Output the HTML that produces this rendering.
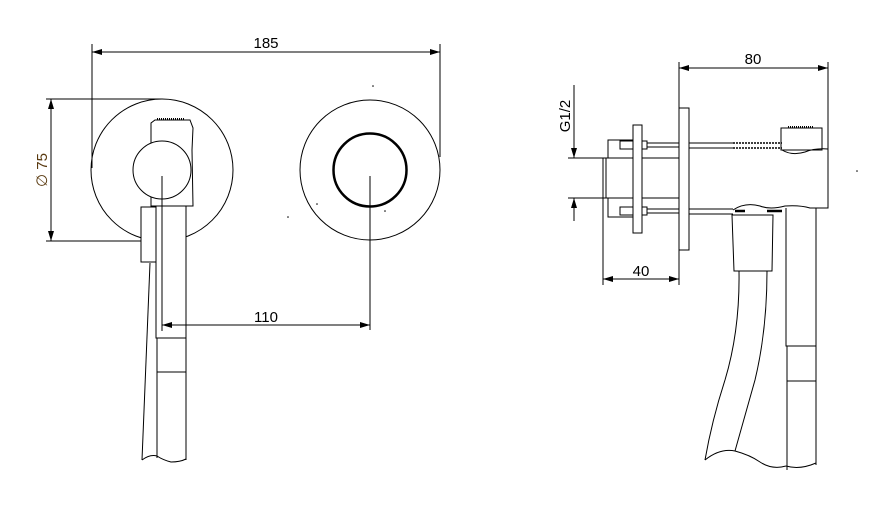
<!DOCTYPE html>
<html><head><meta charset="utf-8"><style>html,body{margin:0;padding:0;background:#fff}svg{display:block}</style></head>
<body>
<svg width="876" height="514" viewBox="0 0 876 514" xmlns="http://www.w3.org/2000/svg" font-family="Liberation Sans, sans-serif">
<defs>
<marker id="a" viewBox="0 0 10 6" refX="10" refY="3" markerWidth="10" markerHeight="6" orient="auto-start-reverse" markerUnits="userSpaceOnUse"><path d="M0,0 L10,3 L0,6 z" fill="#000"/></marker>
</defs>
<g fill="none" stroke="#000" stroke-width="1">
<line x1="92" y1="44" x2="92" y2="168"/>
<line x1="440" y1="44" x2="440" y2="157"/>
<line x1="92" y1="52" x2="440" y2="52" marker-start="url(#a)" marker-end="url(#a)"/>
<line x1="46" y1="99" x2="162" y2="99"/>
<line x1="46" y1="241" x2="145" y2="241"/>
<line x1="51" y1="99" x2="51" y2="241" marker-start="url(#a)" marker-end="url(#a)"/>
<circle cx="162" cy="170" r="71"/>
<path d="M151,150 L151,123 L155,120 L190,120 L193,128 L192,150 L193,206 L151,206 Z" fill="#fff"/>
<line x1="157" y1="119" x2="184" y2="119" stroke-width="2" stroke-dasharray="1 1"/>
<circle cx="162" cy="170" r="29" fill="#fff"/>
<rect x="141" y="207" width="16" height="55" fill="#fff"/>
<path d="M156,206 L186,206 L186,338 L156,338 Z" fill="#fff"/>
<path d="M157,338 L157,458 M186,338 L186,460 M157,372 L186,372"/>
<path d="M150,263 L142,460"/>
<path d="M142,460 Q150,454 157,456 Q163,460 171,462 Q180,462 186,459"/>
<line x1="162" y1="176" x2="162" y2="331"/>
<line x1="162" y1="325" x2="370" y2="325" marker-start="url(#a)" marker-end="url(#a)"/>
<circle cx="370" cy="170" r="70"/>
<circle cx="370" cy="170" r="36.5" stroke-width="2.5"/>
<line x1="370" y1="176" x2="370" y2="330"/>
<line x1="679" y1="62" x2="679" y2="108"/>
<line x1="828" y1="62" x2="828" y2="150"/>
<line x1="679" y1="68" x2="828" y2="68" marker-start="url(#a)" marker-end="url(#a)"/>
<rect x="679" y="108" width="10" height="142"/>
<rect x="603" y="158" width="76" height="40"/>
<line x1="606" y1="158" x2="606" y2="198"/>
<path d="M608,158 L608,140 L633,140 M608,198 L608,217 L633,217"/>
<path d="M647,143 L679,143 M647,147 L679,147 M647,209 L679,209 M647,213 L679,213"/>
<rect x="633" y="125" width="9" height="108" fill="#fff"/>
<rect x="620" y="141" width="13" height="8"/>
<rect x="642" y="141" width="5" height="8"/>
<rect x="620" y="207" width="13" height="8"/>
<rect x="642" y="207" width="5" height="8"/>
<path d="M689,143 L733,143 M689,148 L733,148 M689,209 L733,209 M689,214 L733,214"/>
<path d="M733,143 L782,143 M733,148 L782,148" stroke-dasharray="2 1" stroke-width="1.5"/>
<path d="M782,150 Q792,156 805,152 Q815,148 828,149 L828,208 L810,208 Q800,205 785,206 Q770,210 760,206 Q745,202 733,210"/>
<rect x="781" y="128" width="41" height="22"/>
<line x1="788" y1="127" x2="814" y2="127" stroke-width="2" stroke-dasharray="1 1"/>
<path d="M735,211 L745,211 M767,211 L782,211" stroke-width="2.5"/>
<path d="M732,215 L773,215 L772,271 L734,271 Z"/>
<path d="M739,271 Q740,330 725,380 Q712,420 705,460 M767,271 Q767,330 755,380 Q745,415 735,451"/>
<path d="M705,460 Q720,448 735,451 Q750,455 760,462 Q772,470 786,466"/>
<path d="M786,208 L786,346 L816,346 L816,208"/>
<path d="M787,346 L787,470 M816,346 L816,465 M787,381 L816,381"/>
<path d="M786,466 Q800,470 816,463"/>
<line x1="568" y1="158" x2="603" y2="158"/>
<line x1="568" y1="198" x2="603" y2="198"/>
<line x1="574" y1="85" x2="574" y2="158" marker-end="url(#a)"/>
<line x1="574" y1="221" x2="574" y2="198" marker-end="url(#a)"/>
<line x1="603" y1="198" x2="603" y2="285"/>
<line x1="679" y1="250" x2="679" y2="285"/>
<line x1="603" y1="279" x2="679" y2="279" marker-start="url(#a)" marker-end="url(#a)"/>
</g>
<g font-size="15" fill="#000" text-anchor="middle">
<text x="266" y="48">185</text>
<text x="266" y="322">110</text>
<text x="753" y="64">80</text>
<text x="641" y="276">40</text>
<text transform="translate(47,170) rotate(-90)" fill="#5a3a10">∅ 75</text>
<text transform="translate(570,116) rotate(-90)">G1/2</text>
</g>
<g fill="#000"><circle cx="373" cy="86" r="0.8"/><circle cx="288" cy="217" r="0.8"/><circle cx="317" cy="204" r="0.8"/><circle cx="385" cy="211" r="0.8"/><circle cx="857" cy="171" r="0.8"/></g>
</svg>
</body></html>
